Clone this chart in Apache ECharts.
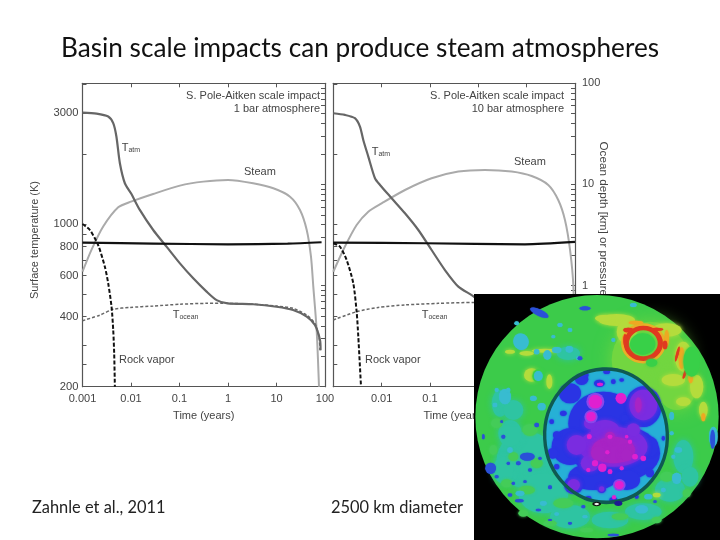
<!DOCTYPE html>
<html><head><meta charset="utf-8"><style>html,body{margin:0;background:#fff}#c{width:720px;height:540px}</style>
<script src="https://cdn.jsdelivr.net/npm/echarts@6/dist/echarts.min.js"></script></head><body><div id="c"></div><script>
const tempLabels=[200,400,600,800,1000,3000];
const tempMinor=[250,300,500,700,900,2000,4000];
const depthTicks=[0.1,1,10,100];
const depthMinor=[0.2,0.3,0.4,0.5,0.6,0.7,0.8,0.9,2,3,4,5,6,7,8,9,20,30,40,50,60,70,80,90];

const tatmL=[[.001,3010],[.00195,2980],[.00339,2893],[.0043,2709],[.005,2374],[.0059,1823],[.00747,1496],[.01,1354],[.0152,1149],[.0287,942],[.054,799],[.102,677],[.192,584],[.362,512],[.582,471],[.98,456],[3.3,452],[10,441],[22,427],[42,400],[62,368],[79,317],[81,287]];
const steamL=[[.001,1.37],[.00153,2.25],[.00267,3.83],[.00545,5.94],[.01,6.76],[.0287,8.05],[.102,9.73],[.309,10.66],[1,11.07],[3.3,10.26],[8.6,9.16],[19,7.57],[30.5,5.59],[42,3.55],[51.4,1.93],[57.4,.975],[67.3,.363],[75.2,.1]];
const depthL=[[.001,2.66],[.0287,2.6],[1,2.56],[17,2.6],[85,2.68]];
const rockL=[[.001,1000],[.00142,942],[.0021,812],[.00289,655],[.00339,556],[.00397,441],[.0043,350],[.0045,278],[.00465,200]];
const oceanL=[[.001,384],[.00228,406],[.0043,430],[.00948,438],[.0287,444],[.102,452],[.362,456],[1,456],[3.3,452],[10,444],[22,434],[42,406],[62,374],[75,328],[79,287]];

const tatmR=[[.001,2989],[.00174,2941],[.0028,2846],[.00356,2620],[.00417,2296],[.0053,1947],[.00728,1572],[.00925,1471],[.0161,1290],[.0304,1111],[.0574,942],[.108,773],[.204,634],[.386,538],[.728,495],[1.17,464],[10,441],[40,400],[85,300]];
const steamR=[[.001,1.37],[.00174,2.43],[.00304,3.97],[.0053,5.38],[.01,6.5],[.0304,8.81],[.108,11.5],[.386,13.4],[1.37,13.9],[4.9,13.4],[12.7,12.1],[28,9.88],[45,7.02],[62,4.45],[79,2.25],[92.5,.975],[100,.1]];
const depthR=[[.001,2.66],[.0788,2.62],[9.2,2.56],[100,2.7]];
const rockR=[[.001,826],[.00137,799],[.00189,700],[.00259,556],[.00304,420],[.00329,328],[.00373,203]];
const oceanR=[[.001,387],[.00304,420],[.00853,438],[.0304,449],[.149,456],[.813,460],[10,445],[40,400],[85,300]];

// moon picture: [x, y, width, height, rotation]
const moonBack=[[381,381,738,738]];
const moonDisc=[[381,380,730,730]];
const moonUplands=[[540,210,230,230],[620,300,110,120]];
const moonTeal=[[170,510,180,170],[120,430,70,80],[100,540,60,80],[220,610,150,120],[300,680,120,70],[420,690,110,50],[520,665,110,50],[600,600,90,70],[90,340,50,80],[295,190,70,40],[640,500,60,100],[130,360,60,60],[660,560,50,60]];
const moonPaleGreen=[[280,640,60,30],[170,600,50,26],[450,680,50,20],[590,560,40,30],[180,420,46,36],[80,400,34,30],[200,520,36,30],[130,500,30,26],[110,580,34,24],[240,700,40,18],[350,720,40,14],[560,690,30,20],[160,670,30,20],[70,480,24,30],[650,610,24,24]];
const moonLime=[[440,90,110,36],[470,125,60,70],[590,120,90,40],[640,200,50,90],[610,270,70,36],[680,290,40,70],[700,360,26,50],[640,335,44,26],[170,190,44,14],[225,182,80,12],[185,255,46,40],[238,275,18,44],[120,185,30,12],[560,615,24,14],[400,85,50,20]];
const moonOrange=[[635,205,18,66],[662,262,14,36],[700,382,12,24],[498,98,44,12],[590,145,14,50]];
const moonRedRing=[[520,160,102,92]];
const moonRedBits=[[475,120,30,14],[560,118,40,10],[585,165,14,26],[622,192,8,46,-15],[645,250,8,34,-20],[465,150,10,36]];
const moonOrangeRing=[[520,160,124,112]];
const moonGreenCrater=[[518,162,76,64],[545,218,34,24],[665,215,50,90],[205,258,36,40]];
const moonCyan=[[153,155,46,50,20],[205,258,26,30],[260,180,28,18],[298,178,22,20],[200,185,16,16],[232,195,24,28],[270,105,16,12],[140,100,14,12],[105,320,36,46],[190,325,20,16],[215,350,24,22],[535,620,24,16],[515,658,38,24],[620,565,28,34],[605,378,14,24],[625,480,22,16],[150,610,26,16],[220,640,20,14],[490,45,20,12],[300,120,14,12],[120,480,16,16],[170,500,12,12],[730,440,26,60],[430,150,12,12],[325,205,14,12],[75,345,14,14],[115,300,12,14],[605,430,12,12],[610,500,12,12],[580,600,14,14],[345,680,16,10],[260,672,14,10],[80,300,12,12],[250,140,12,10]];
const moonBlueSmall=[[208,68,60,20,-25],[345,55,34,12],[728,448,14,58],[62,535,32,34],[172,500,44,24],[120,615,14,10],[145,520,14,12],[100,440,12,12],[40,440,8,16],[430,735,34,8],[205,660,16,8],[300,700,12,8],[240,592,12,12],[148,632,26,10],[95,395,8,8],[330,205,14,12],[200,405,14,14],[225,425,12,12],[115,520,10,10],[80,560,12,10],[180,540,12,10],[240,690,12,6],[130,580,10,10],[165,575,10,8],[340,650,12,10],[555,635,10,8],[210,505,10,10]];
const basinCyan=[[408,437,368,398,3]];
const basinBlue=[[400,400,210,190],[440,490,260,170],[370,560,150,80],[300,470,110,110],[520,350,108,122],[470,570,80,60],[311,585,58,54],[300,310,66,60],[335,268,40,34],[410,245,20,14],[388,280,32,22],[260,435,22,22],[248,490,32,32],[395,597,26,24],[540,470,50,60],[430,275,14,14],[350,255,12,12],[455,270,14,10],[540,550,24,24],[260,530,16,16],[245,395,14,14],[355,625,18,14],[500,620,12,12],[580,445,10,14],[465,385,24,22],[280,370,20,16],[430,630,24,16]];
const basinViolet=[[430,470,205,120],[320,465,60,60],[520,345,84,92],[405,420,86,60],[360,520,56,50],[490,420,40,40],[311,585,38,36],[395,597,16,16],[360,400,36,36]];
const basinPurple=[[430,480,130,80],[420,440,30,30],[385,490,44,44],[470,495,36,36],[505,345,20,46]];
const basinMagenta=[[376,335,40,40],[363,380,28,28],[453,325,32,32],[448,585,26,24],[397,533,24,24],[520,505,16,16],[375,520,18,18],[355,540,12,12],[420,545,14,14],[495,500,16,16],[455,535,12,12],[470,440,10,10],[390,283,18,10],[432,622,12,12],[420,440,14,12],[412,487,12,12],[358,440,14,14],[480,455,12,12]];
const moonRim=[[376,335,54,54],[363,380,40,40],[448,585,38,36]];
const basinRing=[[408,437,368,400,3]];
const moonDark=[[445,640,24,16]];
const moonMarker=[[380,642,20,10]];

const axisBase={axisLine:{show:true,onZero:false,lineStyle:{color:'#555',width:1.2}},splitLine:{show:false},z:0};
const xAx=(grid,pos,labels,hideMin,name)=>({type:'log',logBase:10,gridIndex:grid,position:pos,min:.001,max:100,...axisBase,
  axisTick:{show:true,inside:true,length:4,lineStyle:{color:'#555'}},minorTick:{show:false},
  axisLabel:{show:labels,fontFamily:'Liberation Sans',fontSize:11,color:'#444',margin:7,showMinLabel:!hideMin,formatter:v=>String(+(+v).toPrecision(3))},
  name:name||'',nameLocation:'middle',nameGap:24,nameTextStyle:{fontFamily:'Liberation Sans',fontSize:11,color:'#444'}});
const yTemp=(grid,labels,name)=>({type:'log',logBase:10,gridIndex:grid,position:'left',min:200,max:4020,...axisBase,
  axisTick:{show:true,inside:true,length:4,customValues:tempLabels.concat(tempMinor),lineStyle:{color:'#555'}},
  axisLabel:{show:labels,customValues:tempLabels,fontFamily:'Liberation Sans',fontSize:11.2,color:'#444',margin:4,formatter:v=>String(Math.round(+v))},
  name:name||'',nameLocation:'middle',nameGap:42,nameMoveOverlap:false,nameRotate:90,nameTextStyle:{fontFamily:'Liberation Sans',fontSize:11,color:'#444',padding:[0,10,0,0]}});
const yDepth=(grid,labels,name)=>({type:'log',logBase:10,gridIndex:grid,position:'right',min:.1,max:100,...axisBase,
  axisTick:{show:true,inside:true,length:4,customValues:depthTicks.concat(depthMinor),lineStyle:{color:'#555'}},
  axisLabel:{show:labels,customValues:depthTicks,fontFamily:'Liberation Sans',fontSize:11,color:'#444',margin:7,formatter:v=>String(+(+v).toPrecision(3))},
  name:name||'',nameLocation:'middle',nameGap:22,nameMoveOverlap:false,nameRotate:-90,nameTextStyle:{fontFamily:'Liberation Sans',fontSize:11.7,color:'#444'}});
const line=(d,xi,yi,color,width,type)=>({type:'line',xAxisIndex:xi,yAxisIndex:yi,data:d,showSymbol:false,smooth:.25,clip:true,z:2,silent:true,lineStyle:{color,width,type:type||'solid'},animation:false});
const blob=(d,color,z,blur,extra)=>Object.assign({type:'scatter',xAxisIndex:4,yAxisIndex:4,data:d,symbol:'circle',silent:true,animation:false,z,clip:true,
  symbolSize:v=>[v[2]/3,v[3]/3],symbolRotate:v=>v[4]||0,itemStyle:{color,opacity:1,shadowBlur:blur||0,shadowColor:color}},extra||{});
const ring=(d,color,z,width)=>blob(d,'transparent',z,0,{itemStyle:{color:'transparent',borderColor:color,borderWidth:width,opacity:1}});

const chart=echarts.init(document.getElementById('c'),null,{renderer:'canvas'});
const sub=(main,s)=>`{m|${main}}{s|${s}}`;
const rich={m:{fontFamily:'Liberation Sans',fontSize:11,fill:'#444'},s:{fontFamily:'Liberation Sans',fontSize:7,fill:'#444',verticalAlign:'bottom',padding:[5,0,0,0]}};
const txt=(x,y,t,align)=>({type:'text',x,y,z:1,style:{text:t,fontFamily:'Liberation Sans',fontSize:11,fill:'#444',align:align||'left',verticalAlign:'middle'}});
const rt=(x,y,t)=>({type:'text',x,y,z:1,style:{text:t,rich,fill:'#444',fontFamily:'Liberation Sans',fontSize:11,verticalAlign:'middle'}});
chart.setOption({
  animation:false,backgroundColor:'#fff',
  title:[
   {text:'Basin scale impacts can produce steam atmospheres',left:'center',top:36,padding:0,itemGap:0,textStyle:{fontFamily:'Lato',fontSize:26.2,fontWeight:'normal',color:'#111'}},
   {text:'Zahnle et al., 2011',left:32,top:500,padding:0,textStyle:{fontFamily:'Lato',fontSize:16.4,fontWeight:'normal',color:'#222'}},
   {text:'2500 km diameter',left:331,top:500,padding:0,textStyle:{fontFamily:'Lato',fontSize:16.4,fontWeight:'normal',color:'#222'}}
  ],
  grid:[{left:82.5,top:83.3,width:242.5,height:303.4},{left:333.3,top:83.3,width:241.7,height:303.4},{left:474,top:294,width:246,height:246}],
  xAxis:[xAx(0,'bottom',true,false,'Time (years)'),xAx(0,'top',false),xAx(1,'bottom',true,true,'Time (years)'),xAx(1,'top',false),
    {type:'value',gridIndex:2,min:12,max:750,show:false}],
  yAxis:[yTemp(0,true,'Surface temperature (K)'),yDepth(0,false),yTemp(1,false),yDepth(1,true,'Ocean depth [km] or pressure [bars]'),
    {type:'value',gridIndex:2,min:12,max:750,inverse:true,show:false}],
  graphic:[txt(320,95.6,'S. Pole-Aitken scale impact','right'),txt(320,109,'1 bar atmosphere','right'),
    txt(564,95.6,'S. Pole-Aitken scale impact','right'),txt(564,109,'10 bar atmosphere','right'),
    rt(121.7,148,sub('T','atm')),txt(244,171.7,'Steam'),rt(172.7,315,sub('T','ocean')),txt(119,360,'Rock vapor'),
    rt(371.7,152,sub('T','atm')),txt(514,162,'Steam'),rt(421.7,315,sub('T','ocean')),txt(365,360,'Rock vapor')],
  series:[
    line(steamL,0,1,'#aaaaaa',2),line(oceanL,0,0,'#666666',1.5,[3,2]),line(tatmL,0,0,'#666666',2.2),line(depthL,0,1,'#111111',2.2),line(rockL,0,0,'#111111',2,[4,2]),
    line(steamR,2,3,'#aaaaaa',2),line(oceanR,2,2,'#666666',1.5,[3,2]),line(tatmR,2,2,'#666666',2.2),line(depthR,2,3,'#111111',2.2),line(rockR,2,2,'#111111',2,[4,2]),
    blob(moonBack,'#000',10,0,{symbol:'rect'}),
    blob(moonDisc,'#3ccb4a',11),
    blob(moonUplands,'#72d640',11.5,18),
    blob(moonTeal,'#2ec4a2',12,6),
    blob(moonPaleGreen,'#44cc58',13,3),
    blob(moonLime,'#b4dc3c',14,4),
    ring(moonOrangeRing,'#e8b028',15,3),
    ring(moonRedRing,'#e03a20',16,5),
    blob(moonOrange,'#eea822',15,2),
    blob(moonRedBits,'#e03a20',16,1),
    blob(moonGreenCrater,'#38d048',17,3),
    blob(moonCyan,'#38bcd0',18,1),
    blob(moonBlueSmall,'#2a50d8',19,1),
    blob(basinCyan,'#26b0d6',21,0),
    blob(basinBlue,'#2a34e4',22,2),
    blob(basinViolet,'#7a2ce0',23,4),
    blob(basinPurple,'#a824c4',24,5),
    blob(moonRim,'#8848ea',25),
    blob(basinMagenta,'#e020d0',26,1),
    ring(basinRing,'#0f5a52',27,3.5),
    blob(moonDark,'#201890',28),
    blob(moonMarker,'#f0f4f0',29,0,{itemStyle:{color:'#f0f4f0',borderColor:'#111',borderWidth:1.5,opacity:1}})
  ]
});
</script></body></html>
